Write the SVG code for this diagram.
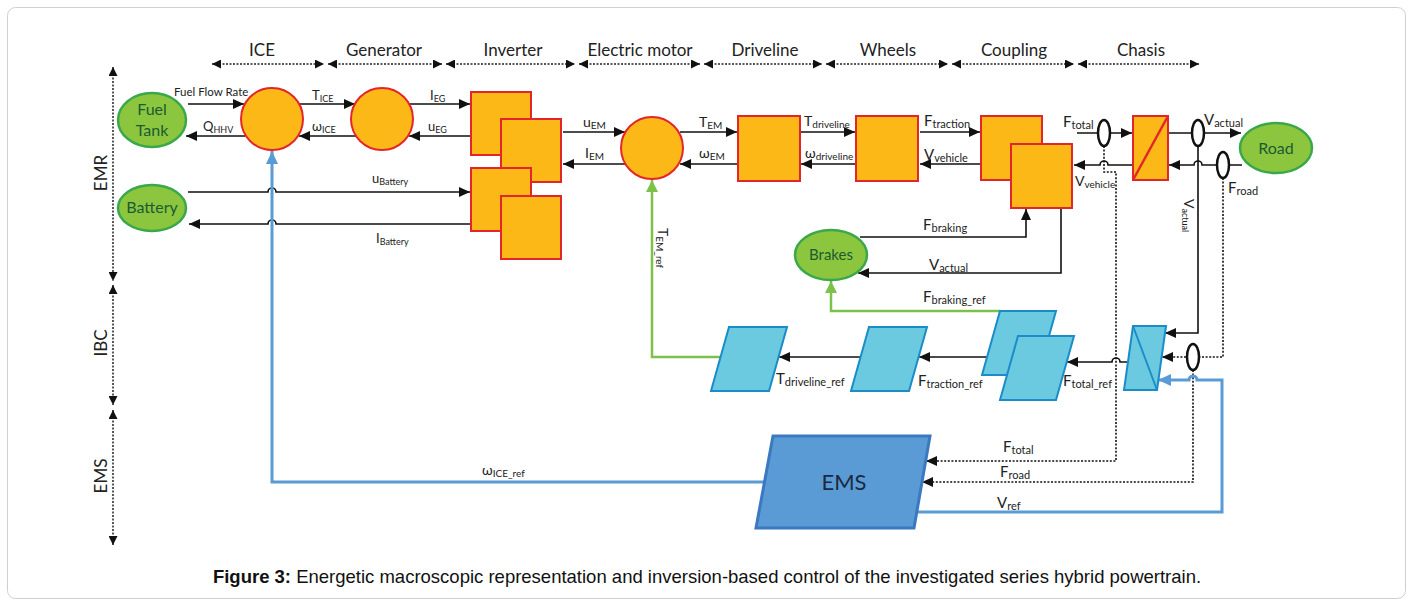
<svg xmlns="http://www.w3.org/2000/svg" width="1413" height="606" viewBox="0 0 1413 606">
<style>
.hdr{font-family:Lato,"Open Sans","Liberation Sans",sans-serif;font-size:17px;fill:#222;text-anchor:middle}
.t{font-family:Lato,"Open Sans","Liberation Sans",sans-serif;font-size:14px;fill:#222}
.ts{font-family:Lato,"Open Sans","Liberation Sans",sans-serif;font-size:13px;fill:#222}
.s{font-size:10px}
.ss{font-size:9px}
.env{fill:#8cc63f;stroke:#3aa84a;stroke-width:2.5}
.envt{font-family:Lato,"Open Sans","Liberation Sans",sans-serif;font-size:16px;fill:#1c5a33;text-anchor:middle}
.blk{fill:#fcb817;stroke:#e3262b;stroke-width:2}
.ibc{fill:#6ccae0;stroke:#1a8cc7;stroke-width:2}
.c{fill:none;stroke:#111;stroke-width:1.6}
.d{fill:none;stroke:#111;stroke-width:1.6;stroke-dasharray:2 1.6}
.hd{fill:none;stroke:#222;stroke-width:1.5;stroke-dasharray:2 1.5}
.g{fill:none;stroke:#7cc24a;stroke-width:2.5}
.b{fill:none;stroke:#5b9bd5;stroke-width:3}
.ov{fill:#fff;stroke:#111;stroke-width:2.5}
</style>
<defs>
<marker id="ab" markerUnits="userSpaceOnUse" markerWidth="11" markerHeight="10" refX="11" refY="5" orient="auto"><path d="M0,0 L11,5 L0,10 z" fill="#111"/></marker>
<marker id="ah" markerUnits="userSpaceOnUse" markerWidth="9" markerHeight="9" refX="9" refY="4.5" orient="auto-start-reverse"><path d="M0,0 L9,4.5 L0,9 z" fill="#111"/></marker>
<marker id="ag" markerUnits="userSpaceOnUse" markerWidth="12" markerHeight="12" refX="12" refY="6" orient="auto"><path d="M0,0 L12,6 L0,12 z" fill="#7cc24a"/></marker>
<marker id="abl" markerUnits="userSpaceOnUse" markerWidth="13" markerHeight="12" refX="13" refY="6" orient="auto"><path d="M0,0 L13,6 L0,12 z" fill="#5b9bd5"/></marker>
</defs>
<rect x="7.5" y="7.5" width="1398" height="591" rx="8" fill="#fff" stroke="#cfcfcf" stroke-width="1"/>

<g id="header">
<line class="hd" x1="212" y1="64" x2="324" y2="64" marker-start="url(#ah)" marker-end="url(#ah)"/>
<line class="hd" x1="328" y1="64" x2="442" y2="64" marker-start="url(#ah)" marker-end="url(#ah)"/>
<line class="hd" x1="446" y1="64" x2="575" y2="64" marker-start="url(#ah)" marker-end="url(#ah)"/>
<line class="hd" x1="579" y1="64" x2="700" y2="64" marker-start="url(#ah)" marker-end="url(#ah)"/>
<line class="hd" x1="704" y1="64" x2="822" y2="64" marker-start="url(#ah)" marker-end="url(#ah)"/>
<line class="hd" x1="826" y1="64" x2="948" y2="64" marker-start="url(#ah)" marker-end="url(#ah)"/>
<line class="hd" x1="952" y1="64" x2="1074" y2="64" marker-start="url(#ah)" marker-end="url(#ah)"/>
<line class="hd" x1="1078" y1="64" x2="1199" y2="64" marker-start="url(#ah)" marker-end="url(#ah)"/>
<text class="hdr" x="262" y="56">ICE</text>
<text class="hdr" x="384" y="56">Generator</text>
<text class="hdr" x="513" y="56">Inverter</text>
<text class="hdr" x="640" y="56">Electric motor</text>
<text class="hdr" x="765" y="56">Driveline</text>
<text class="hdr" x="888" y="56">Wheels</text>
<text class="hdr" x="1014" y="56">Coupling</text>
<text class="hdr" x="1141" y="56">Chasis</text>
<line class="hd" x1="113" y1="67" x2="113" y2="281" marker-start="url(#ah)" marker-end="url(#ah)"/>
<line class="hd" x1="113" y1="285" x2="113" y2="405" marker-start="url(#ah)" marker-end="url(#ah)"/>
<line class="hd" x1="113" y1="410" x2="113" y2="545" marker-start="url(#ah)" marker-end="url(#ah)"/>
<text class="hdr" transform="translate(107,173) rotate(-90)">EMR</text>
<text class="hdr" transform="translate(107,343) rotate(-90)">IBC</text>
<text class="hdr" transform="translate(107,476) rotate(-90)">EMS</text>
</g>

<g id="connectors">
<line class="c" x1="188" y1="104" x2="244" y2="104" marker-end="url(#ab)"/>
<line class="c" x1="245" y1="136" x2="186" y2="136" marker-end="url(#ab)"/>
<line class="c" x1="299" y1="104" x2="355" y2="104" marker-end="url(#ab)"/>
<line class="c" x1="356" y1="136" x2="299" y2="136" marker-end="url(#ab)"/>
<line class="c" x1="409" y1="104" x2="470" y2="104" marker-end="url(#ab)"/>
<line class="c" x1="470" y1="136" x2="409" y2="136" marker-end="url(#ab)"/>
<path class="c" d="M188,192 H268 a4,4 0 0 1 8,0 H470" marker-end="url(#ab)"/>
<path class="c" d="M470,224 H276 a4,4 0 0 0 -8,0 H189" marker-end="url(#ab)"/>
<line class="c" x1="563" y1="132" x2="625" y2="132" marker-end="url(#ab)"/>
<line class="c" x1="625" y1="164" x2="563" y2="164" marker-end="url(#ab)"/>
<line class="c" x1="680" y1="132" x2="737" y2="132" marker-end="url(#ab)"/>
<line class="c" x1="737" y1="164" x2="680" y2="164" marker-end="url(#ab)"/>
<line class="c" x1="801" y1="132" x2="855" y2="132" marker-end="url(#ab)"/>
<line class="c" x1="856" y1="164" x2="801" y2="164" marker-end="url(#ab)"/>
<line class="c" x1="920" y1="132" x2="980" y2="132" marker-end="url(#ab)"/>
<line class="c" x1="980" y1="164" x2="920" y2="164" marker-end="url(#ab)"/>
<line class="c" x1="1077" y1="133" x2="1132" y2="133" marker-end="url(#ab)"/>
<path class="c" d="M1133,165 H1108 a4,4 0 0 0 -8,0 H1074" marker-end="url(#ab)"/>
<line class="c" x1="1169" y1="133" x2="1241" y2="133" marker-end="url(#ab)"/>
<path class="c" d="M1242,165 H1202 a4,4 0 0 0 -8,0 H1169" marker-end="url(#ab)"/>
<path class="c" d="M1198,146 V333 H1165" marker-end="url(#ab)"/>
<path class="d" d="M1104,146 V172 H1116 V461 H926" marker-end="url(#ab)"/>
<path class="d" d="M1223,178 V357 H1162" marker-end="url(#ab)"/>
<path class="d" d="M1193,370 V482 H922" marker-end="url(#ab)"/>
<path class="b" d="M917,512 H1222 V380 H1197 a4,4 0 0 0 -8,0 H1158" marker-end="url(#abl)"/>
<path class="c" d="M1128,362 H1120 a4,4 0 0 0 -8,0 H1067" marker-end="url(#ab)"/>
<line class="c" x1="987" y1="357" x2="919" y2="357" marker-end="url(#ab)"/>
<line class="c" x1="861" y1="357" x2="779" y2="357" marker-end="url(#ab)"/>
<path class="g" d="M721,357 H652 V180" marker-end="url(#ag)"/>
<path class="g" d="M1000,311 H831 V281" marker-end="url(#ag)"/>
<path class="c" d="M860,237 H1026 V209" marker-end="url(#ab)"/>
<path class="c" d="M1061,208 V273 H858" marker-end="url(#ab)"/>
<path class="b" d="M765,482 H272 V151" marker-end="url(#abl)"/>
<ellipse class="ov" cx="1104" cy="133" rx="6" ry="13"/>
<ellipse class="ov" cx="1198" cy="133" rx="6" ry="13"/>
<ellipse class="ov" cx="1223" cy="165" rx="6" ry="13"/>
<ellipse class="ov" cx="1193" cy="357" rx="6" ry="13"/>
</g>

<g id="labels">
<text class="ts" x="174" y="96" style="font-size:11.5px">Fuel Flow Rate</text>
<text class="ts" x="203" y="131">Q<tspan class="ss" dy="2">HHV</tspan></text>
<text class="ts" x="312" y="100">T<tspan class="ss" dy="2">ICE</tspan></text>
<text class="ts" x="312" y="131">ω<tspan class="ss" dy="2">ICE</tspan></text>
<text class="ts" x="430" y="100">I<tspan class="ss" dy="2">EG</tspan></text>
<text class="ts" x="428" y="131">u<tspan class="ss" dy="2">EG</tspan></text>
<text class="ts" x="372" y="183">u<tspan class="ss" dy="2">Battery</tspan></text>
<text class="ts" x="376" y="243">I<tspan class="ss" dy="2">Battery</tspan></text>
<text class="t" x="583" y="127">u<tspan class="s" dy="2">EM</tspan></text>
<text class="t" x="585" y="158">I<tspan class="s" dy="2">EM</tspan></text>
<text class="t" x="699" y="127">T<tspan class="s" dy="2">EM</tspan></text>
<text class="t" x="699" y="158">ω<tspan class="s" dy="2">EM</tspan></text>
<text class="t" x="804" y="126">T<tspan class="s" dy="2">driveline</tspan></text>
<text class="t" x="805" y="158">ω<tspan class="s" dy="2">driveline</tspan></text>
<text class="t" x="924" y="126" style="font-size:15px">F<tspan class="s" dy="2" style="font-size:11px">traction</tspan></text>
<text class="t" x="924" y="160" style="font-size:15px">V<tspan class="s" dy="2" style="font-size:11px">vehicle</tspan></text>
<text class="t" x="1063" y="127" style="font-size:15px">F<tspan class="s" dy="2" style="font-size:11px">total</tspan></text>
<text class="t" x="1075" y="186" style="font-size:14px">V<tspan class="s" dy="2">vehicle</tspan></text>
<text class="t" x="1204" y="125" style="font-size:15px">V<tspan class="s" dy="2" style="font-size:11px">actual</tspan></text>
<text class="t" x="1228" y="193" style="font-size:15px">F<tspan class="s" dy="2" style="font-size:11px">road</tspan></text>
<text class="t" transform="translate(1184,199) rotate(90)">V<tspan class="ss" dy="2">actual</tspan></text>
<text class="t" x="923" y="230" style="font-size:15px">F<tspan class="s" dy="2" style="font-size:11px">braking</tspan></text>
<text class="t" x="929" y="270" style="font-size:15px">V<tspan class="s" dy="2" style="font-size:11px">actual</tspan></text>
<text class="t" x="923" y="302" style="font-size:15px">F<tspan class="s" dy="2" style="font-size:11px">braking_ref</tspan></text>
<text class="t" transform="translate(658,228) rotate(90)">T<tspan class="s" dy="2">EM_ref</tspan></text>
<text class="t" x="776" y="384" style="font-size:15px">T<tspan class="s" dy="2" style="font-size:11px">driveline_ref</tspan></text>
<text class="t" x="918" y="386" style="font-size:15px">F<tspan class="s" dy="2" style="font-size:11px">traction_ref</tspan></text>
<text class="t" x="1063" y="386" style="font-size:15px">F<tspan class="s" dy="2" style="font-size:11px">total_ref</tspan></text>
<text class="t" x="1003" y="452" style="font-size:15px">F<tspan class="s" dy="2" style="font-size:11px">total</tspan></text>
<text class="t" x="1000" y="477" style="font-size:15px">F<tspan class="s" dy="2" style="font-size:11px">road</tspan></text>
<text class="t" x="997" y="508" style="font-size:15px">V<tspan class="s" dy="2" style="font-size:11px">ref</tspan></text>
<text class="t" x="482" y="475">ω<tspan class="s" dy="2">ICE_ref</tspan></text>
</g>

<g id="fuel-tank"><ellipse class="env" cx="152" cy="120" rx="34" ry="27"/><text class="envt" x="152" y="115">Fuel</text><text class="envt" x="152" y="136">Tank</text></g>
<g id="battery"><ellipse class="env" cx="152" cy="208" rx="34" ry="23"/><text class="envt" x="152" y="213">Battery</text></g>
<g id="ice"><circle class="blk" cx="272" cy="119" r="31"/></g>
<g id="generator"><circle class="blk" cx="382" cy="119" r="31"/></g>
<g id="inverter">
<rect class="blk" x="471" y="92" width="60" height="63"/>
<rect class="blk" x="501" y="119" width="60" height="63"/>
<rect class="blk" x="471" y="168" width="60" height="63"/>
<rect class="blk" x="501" y="196" width="60" height="63"/>
</g>
<g id="electric-motor"><circle class="blk" cx="652" cy="148" r="31"/></g>
<g id="driveline"><rect class="blk" x="738" y="116" width="62" height="65"/></g>
<g id="wheels"><rect class="blk" x="856" y="116" width="62" height="65"/></g>
<g id="coupling">
<rect class="blk" x="981" y="116" width="61" height="64"/>
<rect class="blk" x="1011" y="144" width="61" height="64"/>
</g>
<g id="chasis"><rect class="blk" x="1133" y="116" width="35" height="64"/><line x1="1133" y1="180" x2="1168" y2="116" stroke="#e3262b" stroke-width="2.5"/></g>
<g id="road"><ellipse class="env" cx="1276" cy="148" rx="36" ry="25"/><text class="envt" x="1276" y="154">Road</text></g>
<g id="brakes"><ellipse class="env" cx="831" cy="255" rx="36" ry="25"/><text class="envt" x="831" y="260" style="font-size:15px">Brakes</text></g>
<g id="driveline-ref"><polygon class="ibc" points="729,327 787,327 769,391 711,391"/></g>
<g id="traction-ref"><polygon class="ibc" points="869,327 927,327 909,391 851,391"/></g>
<g id="coupling-ref">
<polygon class="ibc" points="1000,311 1056,311 1038,375 982,375"/>
<polygon class="ibc" points="1018,336 1074,336 1056,400 1000,400"/>
</g>
<g id="chasis-ref"><polygon class="ibc" points="1133,326 1166,326 1157,390 1124,390"/><line x1="1133" y1="326" x2="1157" y2="390" stroke="#1a8cc7" stroke-width="2"/></g>
<g id="ems"><polygon points="773,436 930,436 914,528 756,528" fill="#5b9bd5" stroke="#3a78c0" stroke-width="3"/><text x="844" y="490" style="font-family:Lato,'Open Sans','Liberation Sans',sans-serif;font-size:22px;fill:#1b2a40;text-anchor:middle">EMS</text></g>

<text x="707" y="583" style="font-family:'Liberation Sans',Arial,sans-serif;font-size:18.5px;fill:#111;text-anchor:middle"><tspan font-weight="bold">Figure 3:</tspan> Energetic macroscopic representation and inversion-based control of the investigated series hybrid powertrain.</text>
</svg>
